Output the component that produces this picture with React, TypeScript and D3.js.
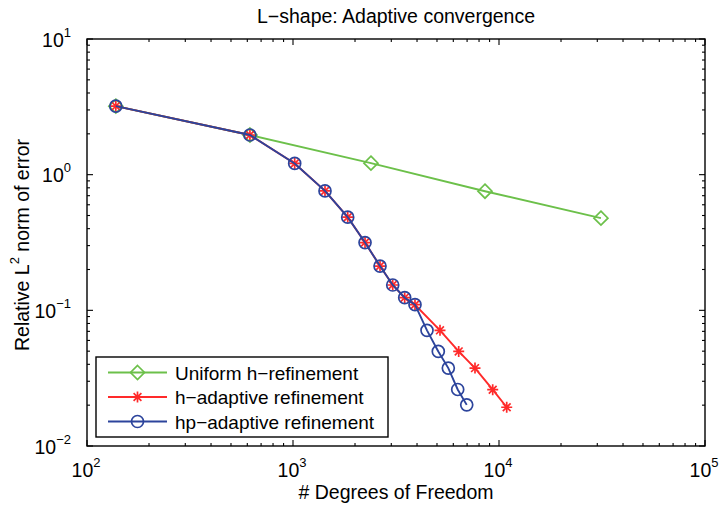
import React, { useEffect, useRef } from 'react';
import * as d3 from 'd3';

// Uniform h-refinement (degrees of freedom, relative error)
const uniformDofs = [138, 618, 2390, 8550, 31250];
const uniformErr = [3.2, 1.96, 1.216, 0.755, 0.478];

// h-adaptive refinement
const hDofs = [138, 618, 1019, 1430, 1843, 2237, 2645, 3048, 3485, 3910, 5171, 6373, 7647, 9321, 10900];
const hErr = [3.2, 1.96, 1.21, 0.759, 0.486, 0.316, 0.212, 0.1537, 0.124, 0.11, 0.0712, 0.0498, 0.0375, 0.026, 0.0193];

// hp-adaptive refinement
const hpDofs = [138, 618, 1019, 1430, 1843, 2237, 2645, 3048, 3485, 3910, 4472, 5074, 5675, 6302, 6971];
const hpErr = [3.2, 1.96, 1.21, 0.759, 0.486, 0.316, 0.212, 0.1537, 0.124, 0.11, 0.0712, 0.0498, 0.0375, 0.0261, 0.0201];

const xDecades = [2, 3, 4, 5];
const yDecades = [-2, -1, 0, 1];
const legendLabels = ['Uniform h\u2212refinement', 'h\u2212adaptive refinement', 'hp\u2212adaptive refinement'];

const GREEN = '#6cc04a';
const RED = '#ff2a2a';
const BLUE = '#2c449c';
const FONT = '"Liberation Sans", Arial, Helvetica, sans-serif';

const App = () => {
  const ref = useRef<SVGSVGElement>(null);

  useEffect(() => {
    const svg = d3.select(ref.current);
    svg.selectAll('*').remove();

    const left = 87, right = 705, top = 39, bottom = 446;

    const x = d3.scaleLog().domain([1e2, 1e5]).range([left, right]);
    const y = d3.scaleLog().domain([1e-2, 1e1]).range([bottom, top]);

    const g = svg.append('g').attr('font-family', FONT);

    // minor + major ticks, inward on all four sides
    const xTicks: number[] = [];
    for (let e = 2; e < 5; e++) for (let m = 1; m < 10; m++) xTicks.push(m * Math.pow(10, e));
    xTicks.push(1e5);
    const yTicks: number[] = [];
    for (let e = -2; e < 1; e++) for (let m = 1; m < 10; m++) yTicks.push(m * Math.pow(10, e));
    yTicks.push(10);

    const isMajor = (v: number) => Math.abs(Math.log10(v) - Math.round(Math.log10(v))) < 1e-9;

    xTicks.forEach(v => {
      const len = isMajor(v) ? 6 : 3;
      g.append('line').attr('x1', x(v)).attr('x2', x(v)).attr('y1', bottom).attr('y2', bottom - len)
        .attr('stroke', '#000').attr('stroke-width', 1.1);
      g.append('line').attr('x1', x(v)).attr('x2', x(v)).attr('y1', top).attr('y2', top + len)
        .attr('stroke', '#000').attr('stroke-width', 1.1);
    });
    yTicks.forEach(v => {
      const len = isMajor(v) ? 6 : 3;
      g.append('line').attr('x1', left).attr('x2', left + len).attr('y1', y(v)).attr('y2', y(v))
        .attr('stroke', '#000').attr('stroke-width', 1.1);
      g.append('line').attr('x1', right).attr('x2', right - len).attr('y1', y(v)).attr('y2', y(v))
        .attr('stroke', '#000').attr('stroke-width', 1.1);
    });

    // axes box
    g.append('rect').attr('x', left).attr('y', top).attr('width', right - left).attr('height', bottom - top)
      .attr('fill', 'none').attr('stroke', '#000').attr('stroke-width', 1.4);

    // x tick labels
    xDecades.forEach(e => {
      const t = g.append('text').attr('x', x(Math.pow(10, e)) - 1).attr('y', 477)
        .attr('text-anchor', 'middle').attr('font-size', 19.5);
      t.append('tspan').text('10');
      t.append('tspan').attr('font-size', 13).attr('dy', -10).text(String(e));
    });

    // y tick labels
    yDecades.forEach(e => {
      const t = g.append('text').attr('x', 71).attr('y', y(Math.pow(10, e)) + 7.5)
        .attr('text-anchor', 'end').attr('font-size', 19.5);
      t.append('tspan').text('10');
      t.append('tspan').attr('font-size', 13).attr('dy', -10).text(e < 0 ? '\u2212' + Math.abs(e) : String(e));
    });

    // title and axis labels
    g.append('text').attr('x', 396).attr('y', 23).attr('text-anchor', 'middle').attr('font-size', 19.5)
      .text('L\u2212shape: Adaptive convergence');
    g.append('text').attr('x', 396).attr('y', 499).attr('text-anchor', 'middle').attr('font-size', 19.5)
      .text('# Degrees of Freedom');
    const yl = g.append('text').attr('transform', 'translate(29,245) rotate(-90)')
      .attr('text-anchor', 'middle').attr('font-size', 19.5);
    yl.append('tspan').text('Relative L');
    yl.append('tspan').attr('font-size', 13).attr('dy', -10).text('2');
    yl.append('tspan').attr('dy', 10).text(' norm of error');

    // markers
    const diamond = (sel: any, cx: number, cy: number, color: string) => {
      const r = 7;
      sel.append('path')
        .attr('d', `M${cx},${cy - r}L${cx + r},${cy}L${cx},${cy + r}L${cx - r},${cy}Z`)
        .attr('fill', 'none').attr('stroke', color).attr('stroke-width', 1.7);
    };
    const star = (sel: any, cx: number, cy: number, color: string) => {
      const r = 5.5;
      const d = r * Math.SQRT1_2;
      sel.append('path')
        .attr('d', `M${cx - r},${cy}L${cx + r},${cy}M${cx},${cy - r}L${cx},${cy + r}` +
          `M${cx - d},${cy - d}L${cx + d},${cy + d}M${cx - d},${cy + d}L${cx + d},${cy - d}`)
        .attr('fill', 'none').attr('stroke', color).attr('stroke-width', 1.7);
    };
    const circle = (sel: any, cx: number, cy: number, color: string) => {
      sel.append('circle').attr('cx', cx).attr('cy', cy).attr('r', 6)
        .attr('fill', 'none').attr('stroke', color).attr('stroke-width', 1.7);
    };

    const line = d3.line<[number, number]>().x(d => x(d[0])).y(d => y(d[1]));

    const series = [
      { xs: uniformDofs, ys: uniformErr, color: GREEN, marker: diamond },
      { xs: hDofs, ys: hErr, color: RED, marker: star },
      { xs: hpDofs, ys: hpErr, color: BLUE, marker: circle },
    ];

    series.forEach(s => {
      const pts = s.xs.map((v, i) => [v, s.ys[i]] as [number, number]);
      const sg = g.append('g');
      sg.append('path').datum(pts).attr('d', line).attr('fill', 'none')
        .attr('stroke', s.color).attr('stroke-width', 1.9);
      pts.forEach(p => s.marker(sg, x(p[0]), y(p[1]), s.color));
    });

    // legend
    const lg = g.append('g');
    lg.append('rect').attr('x', 96).attr('y', 357).attr('width', 292).attr('height', 80)
      .attr('fill', '#fff').attr('stroke', '#000').attr('stroke-width', 1.4);
    series.forEach((s, i) => {
      const ly = 372.5 + i * 24.5;
      lg.append('line').attr('x1', 108).attr('x2', 167).attr('y1', ly).attr('y2', ly)
        .attr('stroke', s.color).attr('stroke-width', 1.9);
      s.marker(lg, 137.5, ly, s.color);
      lg.append('text').attr('x', 175).attr('y', ly + 7).attr('font-size', 19).text(legendLabels[i]);
    });
  }, []);

  return (
    <svg ref={ref} width={722} height={505}
      style={{ position: 'absolute', left: 0, top: 0, background: '#fff' }} />
  );
};

export default App;
